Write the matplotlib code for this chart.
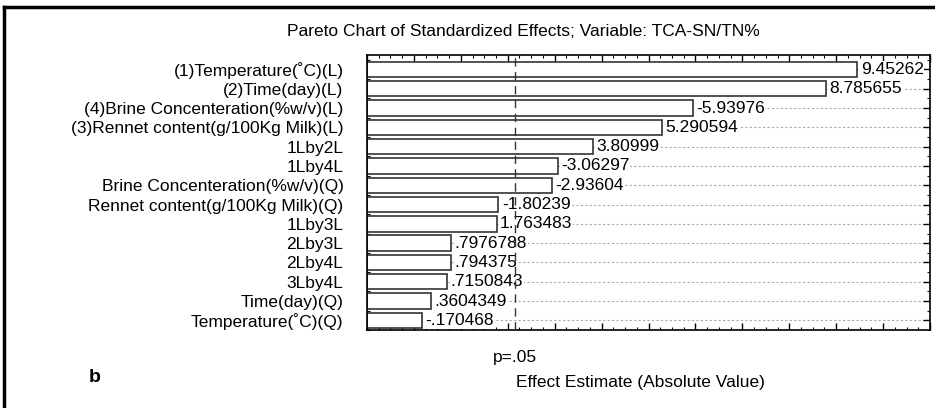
import matplotlib
matplotlib.use('Agg')
import matplotlib.pyplot as plt
from matplotlib.lines import Line2D
from matplotlib.ticker import MultipleLocator

plt.rcParams['font.family'] = ['Liberation Sans', 'DejaVu Sans']

# data
effects = ['(1)Temperature(˚C)(L)', '(2)Time(day)(L)', '(4)Brine Concenteration(%w/v)(L)',
           '(3)Rennet content(g/100Kg Milk)(L)', '1Lby2L', '1Lby4L',
           'Brine Concenteration(%w/v)(Q)', 'Rennet content(g/100Kg Milk)(Q)',
           '1Lby3L', '2Lby3L', '2Lby4L', '3Lby4L', 'Time(day)(Q)', 'Temperature(˚C)(Q)']
estimates = [9.45262, 8.785655, -5.93976, 5.290594, 3.80999, -3.06297, -2.93604,
             -1.80239, 1.763483, 0.7976788, 0.794375, 0.7150843, 0.3604349, -0.170468]
p_crit = 2.16
x_min, x_max = -1, 11


def fmt(v):
    s = str(v)
    return s.replace('-0.', '-.') if s.startswith('-0.') else (s[1:] if s.startswith('0.') else s)


fig = plt.figure(figsize=(9.35, 4.08), dpi=100)
ax = fig.add_axes([367 / 935, 1 - 330 / 408, (930 - 367) / 935, (330 - 55) / 408])

ypos = list(range(len(effects)))
widths = [abs(v) - x_min for v in estimates]

# dotted row lines behind everything
for y in ypos:
    ax.axhline(y, color='#aaaaaa', lw=0.8, ls=(0, (2, 2)), zorder=0)

ax.barh(ypos, widths, left=x_min, height=0.8, color='white', edgecolor='#333333',
        linewidth=1.2, zorder=2)

for y, v in zip(ypos, estimates):
    ax.text(abs(v) + 0.07, y, fmt(v), va='center', ha='left', fontsize=12.5,
            bbox=dict(facecolor='white', edgecolor='none', pad=0.5), zorder=3)

ax.axvline(p_crit, color='#333333', lw=1.0, ls=(0, (6, 4)), zorder=4)

ax.set_xlim(x_min, x_max)
ax.set_ylim(13.5, -0.75)
ax.set_yticks(ypos)
ax.set_yticklabels(effects, fontsize=12.5)
ax.yaxis.set_minor_locator(MultipleLocator(0.5))
ax.xaxis.set_major_locator(MultipleLocator(1))
ax.xaxis.set_minor_locator(MultipleLocator(0.25))
ax.set_xticklabels([])
ax.tick_params(axis='both', which='major', direction='in', length=5, width=1,
               top=True, right=True, color='black')
ax.tick_params(axis='both', which='minor', direction='in', length=2.5, width=0.8,
               top=True, right=True)
ax.tick_params(axis='y', which='major', pad=17)
for sp in ax.spines.values():
    sp.set_linewidth(1.2)

fig.text(523 / 935, 1 - 32 / 408, 'Pareto Chart of Standardized Effects; Variable: TCA-SN/TN%',
         ha='center', va='center', fontsize=12.5)
ax.text(p_crit, -0.1, 'p=.05', transform=ax.get_xaxis_transform(), ha='center',
        va='center', fontsize=12.5)
fig.text(640 / 935, 1 - 383 / 408, 'Effect Estimate (Absolute Value)', ha='center',
         va='center', fontsize=12.5)
fig.text(95 / 935, 1 - 378 / 408, 'b', ha='center', va='center', fontsize=14,
         fontweight='bold')

# outer frame (left and top edges)
fig.add_artist(Line2D([4 / 935, 4 / 935], [0, 1 - 7 / 408], color='black', lw=2.5,
                      transform=fig.transFigure))
fig.add_artist(Line2D([4 / 935, 1], [1 - 7 / 408, 1 - 7 / 408], color='black', lw=2.5,
                      transform=fig.transFigure))

fig.savefig('out.png', dpi=100)
